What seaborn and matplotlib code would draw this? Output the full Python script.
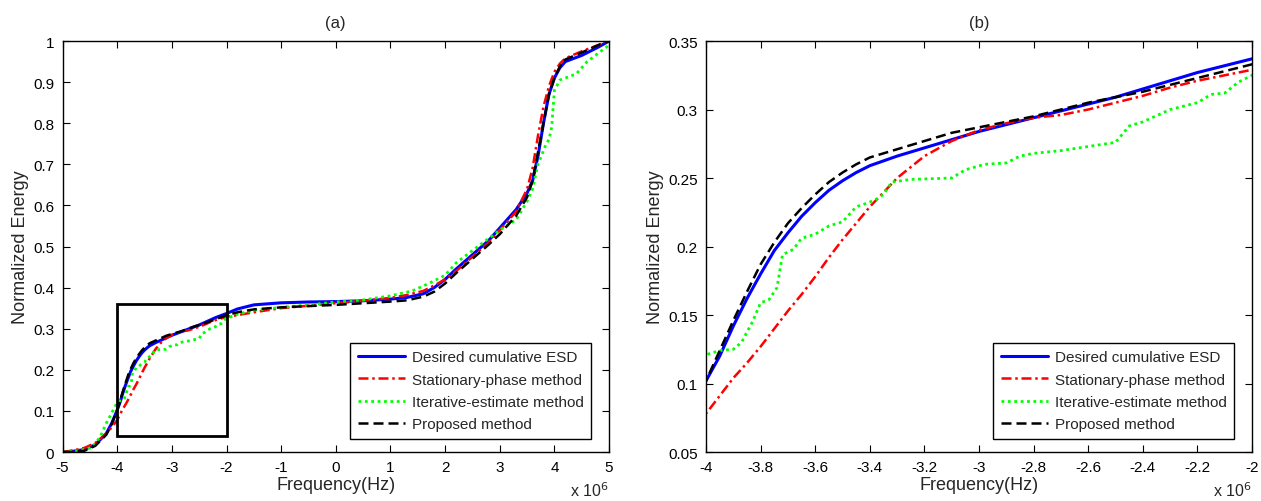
import numpy as np
import pandas as pd
import seaborn as sns
import matplotlib.pyplot as plt
from matplotlib.patches import Rectangle

# frequency grid (x 10^6 Hz) shared by the smooth curves
freq = [-5, -4.8, -4.6, -4.4, -4.2, -4.1,
        -4.0, -3.95, -3.9, -3.85, -3.8,
        -3.75, -3.7, -3.65, -3.6, -3.55,
        -3.5, -3.45, -3.4, -3.3, -3.2,
        -3.1, -3.0, -2.9, -2.8, -2.7,
        -2.6, -2.5, -2.4, -2.3, -2.2,
        -2.1, -2.0, -1.8, -1.5, -1.0,
        -0.5, 0.0, 0.5, 1.0, 1.3,
        1.6, 1.8, 2.0, 2.2, 2.5,
        2.8, 3.0, 3.3, 3.5, 3.6,
        3.7, 3.8, 3.9, 4.0, 4.1,
        4.2, 4.5, 4.8, 5.0]

desired = [0.0, 0.002, 0.006, 0.018, 0.045, 0.07,
           0.102, 0.12, 0.142, 0.162, 0.18,
           0.197, 0.21, 0.222, 0.232, 0.241,
           0.248, 0.254, 0.259, 0.266, 0.272,
           0.278, 0.284, 0.289, 0.294, 0.299,
           0.304, 0.309, 0.315, 0.321, 0.327,
           0.332, 0.337, 0.348, 0.358, 0.363,
           0.365, 0.366, 0.368, 0.372, 0.376,
           0.385, 0.40, 0.42, 0.445, 0.48,
           0.515, 0.545, 0.59, 0.63, 0.66,
           0.72, 0.80, 0.87, 0.91, 0.935,
           0.95, 0.965, 0.985, 1.0]

stationary = [0.0, 0.004, 0.01, 0.022, 0.045, 0.06,
              0.078, 0.091, 0.104, 0.115, 0.127,
              0.14, 0.153, 0.165, 0.178, 0.192,
              0.205, 0.217, 0.229, 0.25, 0.266,
              0.277, 0.285, 0.290, 0.294, 0.296,
              0.300, 0.305, 0.310, 0.316, 0.321,
              0.325, 0.329, 0.333, 0.34, 0.35,
              0.356, 0.362, 0.368, 0.375, 0.382,
              0.392, 0.405, 0.42, 0.44, 0.475,
              0.51, 0.54, 0.585, 0.64, 0.69,
              0.77, 0.84, 0.89, 0.925, 0.945,
              0.958, 0.975, 0.99, 1.0]

proposed = [0.0, 0.0, 0.003, 0.015, 0.042, 0.068,
            0.102, 0.124, 0.146, 0.167, 0.187,
            0.203, 0.217, 0.228, 0.238, 0.247,
            0.254, 0.26, 0.265, 0.271, 0.277,
            0.283, 0.287, 0.291, 0.295, 0.300,
            0.305, 0.309, 0.313, 0.318, 0.323,
            0.328, 0.333, 0.34, 0.347, 0.352,
            0.355, 0.358, 0.362, 0.366, 0.369,
            0.378, 0.39, 0.41, 0.435, 0.47,
            0.505, 0.53, 0.575, 0.62, 0.66,
            0.73, 0.80, 0.87, 0.91, 0.938,
            0.955, 0.972, 0.99, 1.0]

# iterative estimate is step-like, own grid
freq_iter = [-5, -4.7, -4.5, -4.4, -4.3, -4.2, -4.1, -4.0, -3.95, -3.9,
             -3.87, -3.83, -3.8, -3.77, -3.74, -3.72, -3.68, -3.65, -3.6, -3.55,
             -3.5, -3.45, -3.42, -3.38, -3.35, -3.32, -3.25, -3.1, -3.05, -2.98,
             -2.9, -2.85, -2.8, -2.7, -2.6, -2.5, -2.45, -2.4, -2.3, -2.2,
             -2.15, -2.1, -2.05, -2.0, -1.8, -1.5, -1.0, -0.5, 0.0, 0.5,
             1.0, 1.4, 1.7, 2.0, 2.2, 2.6, 2.8, 3.0, 3.3, 3.5,
             3.6, 3.7, 3.85, 3.9, 3.95, 4.0, 4.1, 4.2, 4.4, 4.6,
             4.8, 5.0]
iterative = [0.0, 0.003, 0.01, 0.02, 0.04, 0.07, 0.095, 0.121, 0.124, 0.125,
             0.13, 0.145, 0.159, 0.161, 0.17, 0.194, 0.198, 0.206, 0.209, 0.215,
             0.218, 0.229, 0.231, 0.234, 0.238, 0.247, 0.249, 0.250, 0.256, 0.26,
             0.261, 0.266, 0.268, 0.270, 0.273, 0.276, 0.288, 0.291, 0.300, 0.305,
             0.311, 0.312, 0.32, 0.325, 0.335, 0.345, 0.352, 0.358, 0.365, 0.37,
             0.38, 0.392, 0.41, 0.43, 0.46, 0.5, 0.52, 0.54, 0.565, 0.61,
             0.64, 0.7, 0.75, 0.76, 0.79, 0.88, 0.905, 0.91, 0.92, 0.95,
             0.97, 0.99]

labels = ["Desired cumulative ESD", "Stationary-phase method",
          "Iterative-estimate method", "Proposed method"]

sns.set_style("ticks")
plt.rcParams['font.family'] = ['Liberation Sans', 'DejaVu Sans']
plt.rcParams['xtick.direction'] = 'in'
plt.rcParams['ytick.direction'] = 'in'

fig = plt.figure(figsize=(12.61, 5.02), dpi=100)
axA = fig.add_axes([0.0496, 0.0976, 0.4334, 0.8187])
axB = fig.add_axes([0.5599, 0.0976, 0.4330, 0.8187])


def draw(ax):
    sns.lineplot(ax=ax, x=freq, y=desired, color="#0000ff", lw=2.2,
                 label=labels[0], sort=False)
    sns.lineplot(ax=ax, x=freq, y=stationary, color="#ff0000", lw=1.8,
                 linestyle=(0, (4, 1.5, 1, 1.5)), label=labels[1], sort=False)
    sns.lineplot(ax=ax, x=freq_iter, y=iterative, color="#00ff00", lw=2.0,
                 linestyle=(0, (1, 1.3)), label=labels[2], sort=False)
    sns.lineplot(ax=ax, x=freq, y=proposed, color="black", lw=1.8,
                 linestyle=(0, (4, 2)), label=labels[3], sort=False)
    for s in ax.spines.values():
        s.set_visible(True)
        s.set_linewidth(1.0)
        s.set_color("black")
    ax.tick_params(top=True, right=True, labelsize=11, length=5, width=0.8,
                   colors="black", pad=6)
    ax.set_xlabel("Frequency(Hz)", fontsize=13, labelpad=1)
    ax.set_ylabel("Normalized Energy", fontsize=13, labelpad=3)
    w = ax.get_position().width * 1261
    h = ax.get_position().height * 502
    leg = ax.legend(loc="lower right", bbox_to_anchor=(1 - 18 / w, 13 / h),
                    borderaxespad=0, fontsize=11, frameon=True,
                    fancybox=False, edgecolor="black", framealpha=1,
                    handlelength=3.1, handletextpad=0.4, borderpad=0.5,
                    labelspacing=0.55)
    leg.get_frame().set_linewidth(1.0)
    ax.text(1.0, -0.092, r"x 10$^{6}$", transform=ax.transAxes,
            ha="right", va="center", fontsize=11.5)


draw(axA)
axA.set_xlim(-5, 5)
axA.set_ylim(0, 1)
axA.set_xticks(np.arange(-5, 6, 1))
axA.set_xticklabels([str(v) for v in range(-5, 6)])
axA.set_yticks(np.arange(0, 1.01, 0.1))
axA.set_yticklabels(["0"] + [f"{v:.1f}" for v in np.arange(0.1, 0.95, 0.1)] + ["1"])
axA.set_title("(a)", fontsize=12, pad=10)
axA.add_patch(Rectangle((-4, 0.04), 2, 0.32, fill=False, edgecolor="black",
                        lw=2, zorder=5))

draw(axB)
axB.set_xlim(-4, -2)
axB.set_ylim(0.05, 0.35)
axB.set_xticks(np.arange(-4, -1.99, 0.2))
axB.set_xticklabels(["-4", "-3.8", "-3.6", "-3.4", "-3.2", "-3", "-2.8",
                     "-2.6", "-2.4", "-2.2", "-2"])
axB.set_yticks(np.arange(0.05, 0.351, 0.05))
axB.set_yticklabels(["0.05", "0.1", "0.15", "0.2", "0.25", "0.3", "0.35"])
axB.set_title("(b)", fontsize=12, pad=10)

fig.savefig("out.png", dpi=100)
